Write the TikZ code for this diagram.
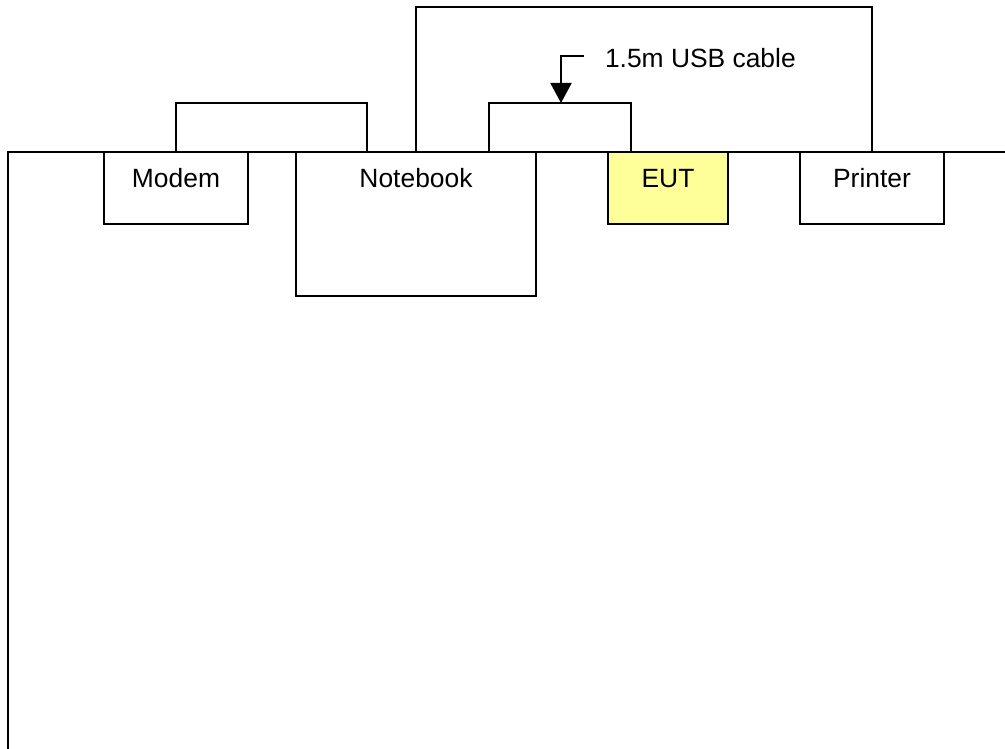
\documentclass[tikz,border=0pt]{standalone}
\usepackage{fontspec}
\setmainfont{Liberation Sans}
\usetikzlibrary{arrows.meta}
\definecolor{eutyellow}{HTML}{FFFF99}

\begin{document}
\begin{tikzpicture}[x=1pt,y=-1pt,line width=2pt]
		\tikzset{box/.style={draw, rectangle, minimum width=144pt, minimum height=72pt, inner sep=0pt},
			boxlabel/.style={anchor=base, inner sep=0pt, font=\fontsize{26.4}{32}\selectfont}}
\useasboundingbox (0,0) rectangle (1005,749);

% table
\draw (1005,152) -- (8,152) -- (8,749);

\node[box] (modem) at (176,188) {};
\node[box, minimum width=240pt, minimum height=144pt] (notebook) at (416,224) {};
\node[box, minimum width=120pt, fill=eutyellow] (eut) at (668,188) {};
\node[box] (printer) at (872,188) {};

\foreach \n/\t in {modem/Modem,notebook/Notebook,eut/EUT,printer/Printer}
{
	\node[boxlabel] at ([yshift=-37pt]\n.north) {\t};
}

% cables
\draw (modem.north) -- ++(0,-48) -| ([xshift=72pt]notebook.north west);
\draw (notebook.north) -- ++(0,-144) -| (printer.north);
\draw ([xshift=-48pt]notebook.north east) -- ++(0,-48) coordinate (usbleft)
	-| ([xshift=24pt]eut.north west);
\coordinate (usbtip) at ([xshift=72pt]usbleft);

\node[boxlabel, anchor=base west] (usb) at (604,68) {1.5m USB cable};
\coordinate (usbbend) at (584,56);
\draw[-{Triangle[width=21pt,length=20pt]}] (usbbend) -| (usbtip);

		\end{tikzpicture}
\end{document}
